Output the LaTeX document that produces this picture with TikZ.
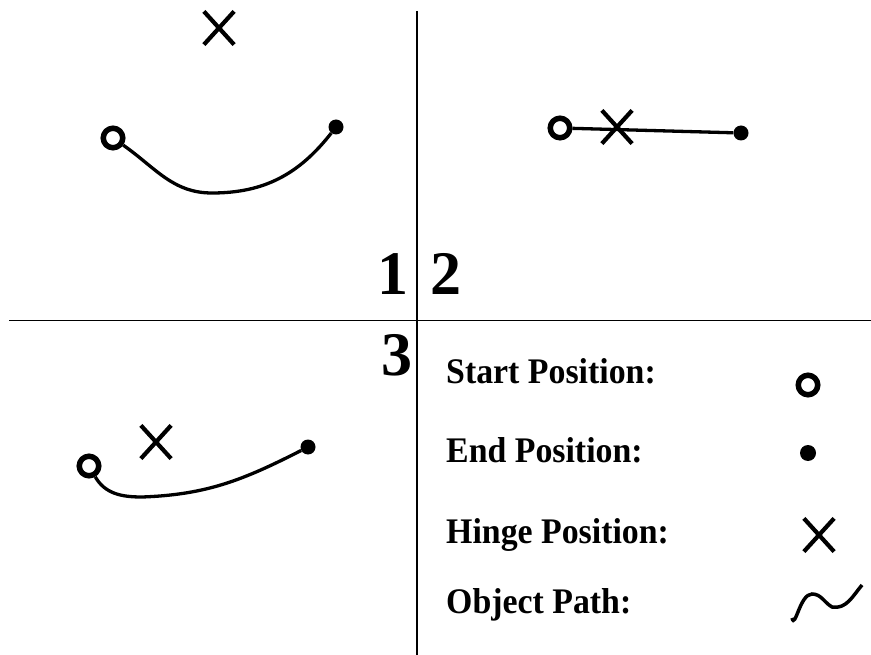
\documentclass[tikz,border=0pt]{standalone}
\usepackage{fontspec}
\setmainfont{Liberation Serif}
\newfontfamily\legfont[FakeStretch=0.94]{Liberation Serif}
\usetikzlibrary{shapes.misc}
\begin{document}
\begin{tikzpicture}[x=1pt,y=-1pt,
  startmk/.style={circle,draw,line width=5.5pt,minimum size=19.5pt,inner sep=0pt},
  endmk/.style={circle,fill,minimum size=15pt,inner sep=0pt},
  hingemk/.style={cross out,draw,line width=4.2pt,minimum width=26pt,minimum height=29pt,inner sep=0pt},
  pathln/.style={line width=3.3pt},
  divider/.style={line width=1.5pt},
  quadnum/.style={inner sep=0pt,font=\fontsize{62}{62}\selectfont\bfseries},
  legtext/.style={inner sep=0pt,anchor=base west,font=\legfont\fontsize{36}{36}\selectfont\bfseries}]
\useasboundingbox (0,0) rectangle (871,655);
% dividers
\coordinate (vtop) at (417,11);
\coordinate (vbot) at (417,655);
\coordinate (hl) at (9,320.5);
\coordinate (hr) at (871,320.5);
\draw[divider] (vtop) -- (vbot);
\draw[divider] (hl) -- (hr);
% quadrant numbers
\node[quadnum,anchor=base east] (n1) at (409,295) {1};
\node[quadnum,anchor=base west] (n2) at (430,295) {2};
\node[quadnum,anchor=base west] (n3) at (381,376) {3};
% quadrant 1
\node[hingemk] (h1) at (219,28) {};
\node[startmk] (s1) at (113,138) {};
\node[endmk] (e1) at (336,127) {};
\coordinate (b1) at (212,193);
\draw[pathln] (s1) to[out=-35,in=180] (b1) to[out=0,in=-128] (e1);
% quadrant 2
\node[startmk] (s2) at (560,128) {};
\node[hingemk] (h2) at (617,127) {};
\node[endmk] (e2) at (741,133) {};
\draw[pathln] (s2) -- (e2);
% quadrant 3
\node[startmk] (s3) at (89,466) {};
\node[hingemk] (h3) at (156,442) {};
\node[endmk] (e3) at (308,447) {};
\coordinate (b3) at (142,497);
\draw[pathln] (s3) to[out=-60,in=180] (b3) to[out=2,in=-153] (e3);
% legend
\node[legtext] (t1) at (446,383) {Start Position:};
\node[legtext] (t2) at (446,462) {End Position:};
\node[legtext] (t3) at (446,543) {Hinge Position:};
\node[legtext] (t4) at (446,613) {Object Path:};
\node[startmk] (ls) at (808,385) {};
\node[endmk,minimum size=16pt] (le) at (808,453) {};
\node[hingemk] (lh) at (819,535) {};
\coordinate (w0) at (792,618);
\coordinate (w1) at (812,594);
\coordinate (w2) at (832,607);
\coordinate (w3) at (862,585);
\draw[line width=3.5pt] (w0) to[out=-75,in=180] (w1) to[out=0,in=150] (w2) to[out=-10,in=-130] (w3);
\end{tikzpicture}
\end{document}
